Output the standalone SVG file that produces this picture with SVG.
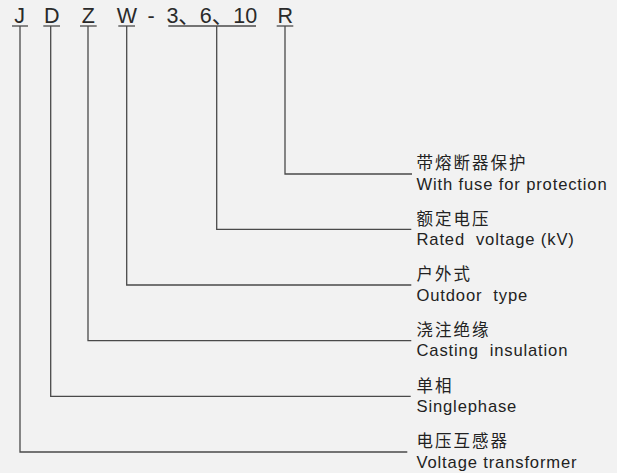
<svg xmlns="http://www.w3.org/2000/svg" width="617" height="473" viewBox="0 0 617 473">
<style>
.bg{fill:#f2f2f2}
.code{font-family:"Liberation Sans","Noto Sans CJK SC",sans-serif;font-size:21.5px;fill:#2a2a2a;text-anchor:middle}
.cn{font-family:"Noto Sans CJK SC","Liberation Sans",sans-serif;font-size:16.5px;letter-spacing:2px;fill:#222}
.en{font-family:"Liberation Sans","Noto Sans",sans-serif;font-size:16.6px;letter-spacing:0.85px;fill:#222;white-space:pre}
.ln{stroke:#4a4a4a;stroke-width:1.3;fill:none}
</style>
<rect class="bg" width="617" height="473"/>
<g id="code">
<text class="code" x="19.5" y="23.3">J</text>
<text class="code" x="51.7" y="23.3">D</text>
<text class="code" x="88.3" y="23.3">Z</text>
<text class="code" x="127" y="23.3">W</text>
<text class="code" x="151" y="23.3">-</text>
<text class="code" x="166.4" y="23.3" style="text-anchor:start">3、6、10</text>
<text class="code" x="285.3" y="23.3">R</text>
<g class="ln">
<line x1="12" y1="26" x2="28" y2="26"/>
<line x1="43.3" y1="26" x2="60" y2="26"/>
<line x1="80" y1="26" x2="96.7" y2="26"/>
<line x1="118.3" y1="26" x2="135" y2="26"/>
<line x1="168.3" y1="26" x2="256" y2="26"/>
<line x1="276.7" y1="26" x2="293.3" y2="26"/>
</g>
</g>
<g id="connectors" class="ln">
<polyline points="285,26 285,174 412,174"/>
<polyline points="216.7,26 216.7,229.3 411.3,229.3"/>
<polyline points="126.7,26 126.7,285 411.3,285"/>
<polyline points="88,26 88,340.7 411.3,340.7"/>
<polyline points="50.7,26 50.7,396.3 410.7,396.3"/>
<polyline points="20,26 20,452 407.3,452"/>
</g>
<g id="label-r">
<text class="cn" x="416.5" y="169.2">带熔断器保护</text>
<text class="en" x="416.5" y="189.5">With fuse for protection</text>
</g>
<g id="label-voltage">
<text class="cn" x="416.5" y="224.5">额定电压</text>
<text class="en" x="416.5" y="244.8">Rated  voltage (kV)</text>
</g>
<g id="label-w">
<text class="cn" x="416.5" y="280.2">户外式</text>
<text class="en" x="416.5" y="300.5">Outdoor  type</text>
</g>
<g id="label-z">
<text class="cn" x="416.5" y="335.9">浇注绝缘</text>
<text class="en" x="416.5" y="356.2">Casting  insulation</text>
</g>
<g id="label-d">
<text class="cn" x="416.5" y="391.5">单相</text>
<text class="en" x="416.5" y="411.8">Singlephase</text>
</g>
<g id="label-j">
<text class="cn" x="416.5" y="447.2">电压互感器</text>
<text class="en" x="416.5" y="467.5">Voltage transformer</text>
</g>
</svg>
